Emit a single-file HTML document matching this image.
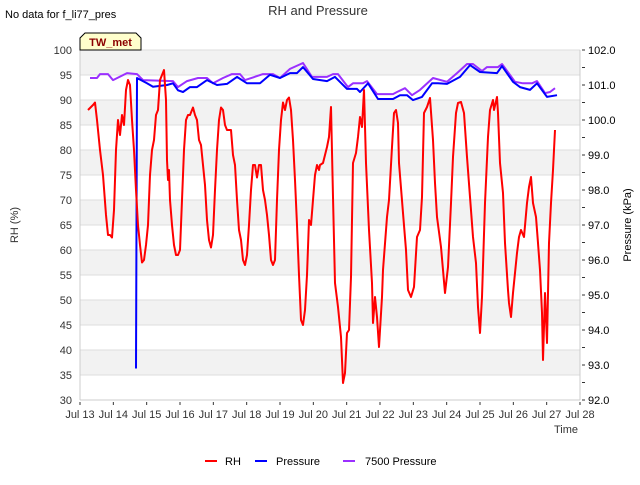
<!DOCTYPE html>
<html><head><meta charset="utf-8"><style>
body{margin:0;background:#fff;}
svg{font-family:"Liberation Sans","DejaVu Sans",sans-serif;}
</style></head><body>
<svg id="chart" width="640" height="480" viewBox="0 0 640 480">
<text x="5" y="18" font-size="11" fill="#000">No data for f_li77_pres</text>
<text x="318" y="15" font-size="13" fill="#333" text-anchor="middle">RH and Pressure</text>
<g id="grid"></g>
<g id="axes"></g>
<g id="series"></g>
<g>
<path d="M80,50 L80,38 L85,33 L136,33 L141,38 L141,50 Z" fill="#ffffcc" stroke="#000" stroke-width="1"/>
<text x="110.5" y="46" font-size="11" font-weight="bold" fill="#8b0000" text-anchor="middle">TW_met</text>
</g>
<text transform="translate(18,225) rotate(-90)" font-size="11" fill="#333" text-anchor="middle">RH (%)</text>
<text transform="translate(631,225) rotate(-90)" font-size="11" fill="#000" text-anchor="middle">Pressure (kPa)</text>
<text x="578" y="433" font-size="11" fill="#333" text-anchor="end">Time</text>
<g>
<g><line x1="205" y1="461" x2="217" y2="461" stroke="#f00" stroke-width="2"/><text x="225" y="465" font-size="11" fill="#000">RH</text></g>
<g><line x1="255" y1="461" x2="267" y2="461" stroke="#00f" stroke-width="2"/><text x="276" y="465" font-size="11" fill="#000">Pressure</text></g>
<g><line x1="343" y1="461" x2="355" y2="461" stroke="#9b30ff" stroke-width="2"/><text x="365" y="465" font-size="11" fill="#000">7500 Pressure</text></g>
</g>
</svg>
<script>
const xTickLabels=["Jul 13","Jul 14","Jul 15","Jul 16","Jul 17","Jul 18","Jul 19","Jul 20","Jul 21","Jul 22","Jul 23","Jul 24","Jul 25","Jul 26","Jul 27","Jul 28"];
const leftTicks=[30,35,40,45,50,55,60,65,70,75,80,85,90,95,100];
const rightTicks=[92,93,94,95,96,97,98,99,100,101,102];
const rhT=[0.24,0.39,0.45,0.51,0.6,0.69,0.78,0.84,0.9,0.96,1.02,1.08,1.14,1.2,1.26,1.32,1.38,1.44,1.5,1.56,1.62,1.68,1.74,1.8,1.86,1.92,1.98,2.04,2.1,2.16,2.22,2.28,2.34,2.4,2.46,2.52,2.58,2.61,2.64,2.67,2.7,2.76,2.82,2.88,2.94,3.0,3.06,3.12,3.18,3.24,3.3,3.36,3.39,3.45,3.51,3.57,3.63,3.69,3.75,3.81,3.87,3.93,3.99,4.05,4.11,4.17,4.23,4.29,4.35,4.41,4.53,4.59,4.65,4.71,4.77,4.83,4.89,4.95,5.01,5.07,5.13,5.19,5.25,5.31,5.37,5.43,5.49,5.55,5.61,5.67,5.73,5.79,5.85,5.91,5.97,6.03,6.09,6.15,6.21,6.27,6.33,6.39,6.45,6.51,6.57,6.63,6.69,6.75,6.81,6.87,6.93,6.99,7.05,7.11,7.17,7.2,7.29,7.41,7.47,7.53,7.59,7.65,7.74,7.83,7.89,7.95,8.01,8.07,8.13,8.19,8.28,8.34,8.4,8.46,8.52,8.58,8.67,8.76,8.79,8.85,8.91,8.97,9.06,9.09,9.21,9.27,9.36,9.42,9.48,9.54,9.57,9.69,9.78,9.84,9.93,10.02,10.11,10.2,10.26,10.32,10.41,10.5,10.59,10.65,10.71,10.83,10.89,10.95,11.04,11.13,11.19,11.28,11.34,11.43,11.52,11.61,11.7,11.79,11.88,11.94,12.0,12.06,12.15,12.24,12.3,12.39,12.42,12.51,12.54,12.6,12.69,12.75,12.84,12.87,12.93,12.99,13.11,13.17,13.23,13.32,13.41,13.47,13.53,13.59,13.68,13.74,13.8,13.86,13.89,13.95,14.01,14.07,14.13,14.19,14.25];
const rhV=[88,89,89.5,86,80,75,67,63,63,62.5,68,80,86,83,87,85,92,94,93,86,80,72,65,61,57.5,58,61,65,75,80,82,87,88,94,95,96,90,78,74,76,70,65,61,59,59,60,70,80,86,87,87,88,88.5,87,86,82,81,77,73,66,62,60.5,63,72,80,86,88.5,88,85,84,84,79,77,70,64,62,58,57,59,65,72,77,77,74.5,77,77,72,70,67,63,58,57,58,70,80,86,89.5,88,90,90.5,88,82,74,65,55,46,45,48,55,66,65,70,75,77,76,77,77.4,80.6,82.6,88.6,70.6,53.4,48.6,42.6,33.4,35.4,43.4,44,54.6,77.4,79.4,82.6,86.6,84.6,92,77.4,64,53.4,45.4,50.6,46.6,40.6,50.6,56,66.6,70,80.6,87.4,88,85.4,77.4,67.4,60,52,50.6,52.6,62.6,64,70.6,87.4,88.6,90.4,82,73.4,66.6,60.6,56,51.4,56.6,69.4,78.6,87.4,89.4,89.6,87.4,78.6,70.6,62.6,57.4,48.6,43.4,50.6,69.4,82.6,88,90,88,90.6,87.4,77.4,71.4,61.4,52,49.4,46.6,51.4,59.4,62.6,64,62.6,69.4,72.6,74.6,69.4,66.6,61.4,56,47.4,38,51.4,41.4,61.4,69.4,76,84];
const presT=[1.68,1.71,2.01,2.19,2.61,2.79,2.94,3.09,3.3,3.51,3.81,4.11,4.41,4.71,5.01,5.4,5.7,6.0,6.3,6.51,6.69,6.99,7.41,7.65,8.01,8.31,8.4,8.64,8.94,9.39,9.6,9.81,9.99,10.26,10.56,10.74,11.01,11.4,11.7,12.0,12.51,12.66,12.99,13.2,13.5,13.71,14.01,14.31];
const presV=[92.9,101.2,101.05,100.95,101.0,101.05,100.85,100.8,100.94,100.94,101.14,101.0,101.03,101.23,101.05,101.05,101.29,101.2,101.34,101.34,101.51,101.17,101.11,101.23,100.89,100.89,100.8,101.05,100.6,100.6,100.71,100.71,100.57,100.66,101.05,101.05,101.03,101.23,101.57,101.37,101.34,101.54,101.09,100.94,100.86,101.05,100.66,100.71];
const p7500T=[0.3,0.51,0.6,0.84,0.99,1.41,1.71,1.89,2.79,2.94,3.21,3.54,3.81,3.99,4.29,4.56,4.8,4.95,5.49,5.79,6.0,6.3,6.69,6.96,7.41,7.59,7.74,8.04,8.19,8.49,8.61,8.91,9.39,9.51,9.75,9.96,10.2,10.59,11.01,11.31,11.61,11.79,12.06,12.21,12.54,12.66,13.05,13.29,13.56,13.71,13.95,14.1,14.25];
const p7500V=[101.2,101.2,101.31,101.31,101.14,101.34,101.31,101.14,101.11,100.94,101.11,101.2,101.2,101.05,101.2,101.31,101.31,101.14,101.31,101.31,101.2,101.46,101.63,101.23,101.23,101.31,101.31,100.94,101.05,101.05,101.11,100.74,100.74,100.8,100.91,100.71,100.86,101.2,101.09,101.34,101.6,101.6,101.4,101.51,101.51,101.6,101.09,101.05,101.05,101.11,100.77,100.8,100.91];

const NS="http://www.w3.org/2000/svg";
const L=80,R=580,T=50,B=400;
const xS=d=>L+d*(R-L)/15;
const yL=v=>B-(v-30)*(B-T)/70;
const yR=v=>B-(v-92)*(B-T)/10;
function mk(tag,attrs,parent){const e=document.createElementNS(NS,tag);for(const k in attrs)e.setAttribute(k,attrs[k]);parent.appendChild(e);return e;}
const grid=document.getElementById('grid'),axes=document.getElementById('axes'),series=document.getElementById('series');
for(let v=95;v>=35;v-=10){const b=mk('rect',{x:L,y:yL(v+5),width:R-L,height:yL(v)-yL(v+5),fill:'#f2f2f2'},grid);

}
leftTicks.forEach(v=>{const g=mk('line',{x1:L,x2:R,y1:yL(v),y2:yL(v),stroke:'#ddd','stroke-width':1},grid);


const t=mk('text',{x:72,y:yL(v)+4,'font-size':11,fill:'#333','text-anchor':'end'},axes);t.textContent=v;

});
mk('line',{x1:L,x2:L,y1:T,y2:B,stroke:'#ccc'},axes);
mk('line',{x1:R,x2:R,y1:T,y2:B,stroke:'#ccc'},axes);
mk('line',{x1:L,x2:R,y1:B,y2:B,stroke:'#ccc'},axes);
for(let v=92;v<=102;v+=0.5){mk('line',{x1:R+2,x2:R+5,y1:yR(v),y2:yR(v),stroke:'#333'},axes);}
rightTicks.forEach(v=>{const t=mk('text',{x:588,y:yR(v)+4,'font-size':11,fill:'#000'},axes);t.textContent=v.toFixed(1);

});
xTickLabels.forEach((s,i)=>{mk('line',{x1:xS(i),x2:xS(i),y1:B+2,y2:B+5,stroke:'#333'},axes);
const t=mk('text',{x:xS(i),y:418,'font-size':11,fill:'#333','text-anchor':'middle'},axes);t.textContent=s;

});
function line(ts,vs,ys,color,name){const d=ts.map((t,i)=>(i?'L':'M')+xS(t).toFixed(1)+','+ys(vs[i]).toFixed(1)).join('');
const p=mk('path',{d:d,fill:'none',stroke:color,'stroke-width':2,'stroke-linejoin':'round'},series);

}
line(p7500T,p7500V,yR,'#9b30ff','line-7500-pressure');
line(presT,presV,yR,'#0000ff','line-pressure');
line(rhT,rhV,yL,'#ff0000','line-rh');
</script>
</body></html>
